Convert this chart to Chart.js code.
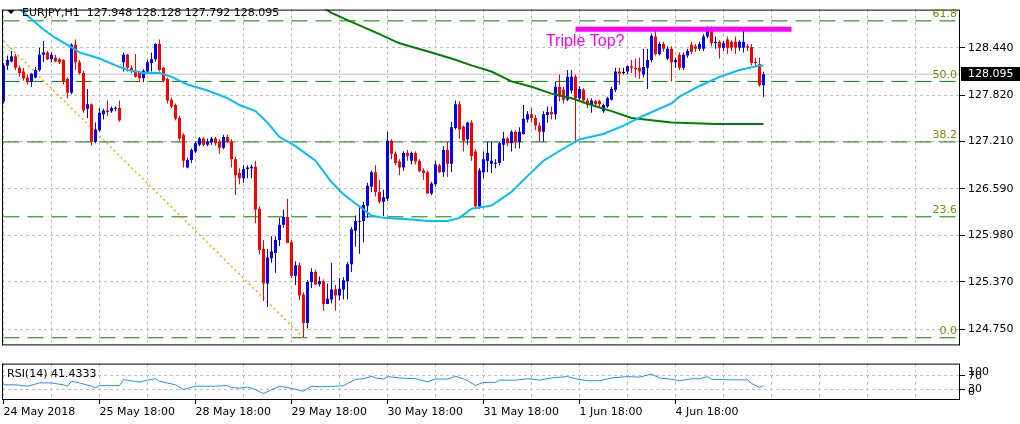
<!DOCTYPE html>
<html>
<head>
<meta charset="utf-8">
<script src="https://cdn.jsdelivr.net/npm/chart.js@4/dist/chart.umd.min.js"></script>
<style>
  body { margin: 0; background: #fff; }
  #wrap { position: relative; width: 1020px; height: 424px; }
  #wrap canvas { position: absolute; left: 0; }
  #mainChart { top: 0; }
  #rsiChart { top: 354px; }
</style>
</head>
<body>
<div id="wrap">
  <canvas id="mainChart" width="1020" height="355"></canvas>
  <canvas id="rsiChart" width="1020" height="70"></canvas>
</div>
<script>
// EURJPY H1 candles, one per hour, index 0 = 24 May 18:00
const open = [
  127.74,128.21,128.26,128.33,128.18,128.13,128.05,128.00,128.05,128.15,
  128.35,128.38,128.29,128.31,128.29,128.28,128.03,127.85,128.48,128.25,
  128.11,127.64,127.70,127.21,127.36,127.57,127.62,127.61,127.64,127.65,
  128.25,128.35,128.18,128.14,128.11,128.04,128.13,128.24,128.29,128.49,
  128.18,128.03,127.76,127.69,127.52,127.30,126.87,126.97,127.08,127.17,
  127.25,127.17,127.20,127.25,127.21,127.13,127.27,127.21,126.98,126.80,
  126.73,126.85,126.86,126.88,126.33,125.80,125.35,125.68,125.75,125.92,
  126.12,126.22,125.89,125.45,125.59,125.20,124.83,125.37,125.50,125.34,
  125.38,125.08,125.14,125.27,125.19,125.27,125.38,125.60,126.04,126.16,
  126.17,126.37,126.62,126.81,126.55,126.42,126.46,127.22,127.05,126.95,
  126.87,127.06,126.96,127.06,126.96,126.83,126.81,126.53,126.65,126.90,
  126.81,127.10,126.92,127.39,127.70,127.41,127.24,127.46,127.08,126.36,
  126.81,126.96,126.92,126.92,126.93,127.17,127.25,127.19,127.34,127.21,
  127.31,127.50,127.57,127.52,127.42,127.34,127.56,127.60,127.57,127.93,
  127.89,127.76,127.88,128.06,127.78,127.89,127.75,127.69,127.74,127.74,
  127.61,127.67,127.76,127.89,128.13,128.11,128.13,128.20,128.18,128.18,
  128.09,128.18,128.28,128.59,128.36,128.49,128.30,128.43,128.25,128.35,
  128.18,128.34,128.48,128.46,128.43,128.43,128.59,128.68,128.50,128.52,
  128.44,128.55,128.52,128.52,128.44,128.44,128.46,128.45,128.25,128.23,
  127.948
];
const high = [
  128.24,128.34,128.40,128.36,128.21,128.18,128.09,128.11,128.19,128.44,
  128.53,128.40,128.38,128.35,128.31,128.29,128.05,128.50,128.55,128.28,
  128.14,127.90,127.71,127.46,127.65,127.64,127.75,127.67,127.67,127.75,
  128.38,128.36,128.21,128.36,128.14,128.16,128.28,128.38,128.50,128.55,
  128.19,128.05,127.79,127.71,127.55,127.32,127.00,127.12,127.21,127.27,
  127.27,127.25,127.27,127.27,127.24,127.30,127.30,127.24,127.01,126.86,
  126.90,126.90,126.91,126.96,126.36,125.92,125.80,125.97,125.97,126.21,
  126.32,126.46,125.92,125.64,125.62,125.23,125.39,125.55,125.53,125.44,
  125.40,125.35,125.62,125.33,125.42,125.43,125.63,126.09,126.24,126.36,
  126.42,126.67,126.83,126.90,126.71,126.58,127.34,127.24,127.08,126.98,
  127.08,127.10,127.08,127.08,126.98,126.86,126.83,126.68,126.96,126.92,
  127.15,127.21,127.47,127.75,127.74,127.42,127.47,127.49,127.11,126.86,
  127.08,127.21,127.21,126.98,127.21,127.34,127.27,127.36,127.36,127.40,
  127.69,127.61,127.65,127.56,127.46,127.61,127.67,127.67,128.00,128.09,
  127.93,128.15,128.15,128.09,127.94,127.91,127.78,127.78,127.76,127.76,
  127.71,127.80,127.93,128.18,128.18,128.18,128.21,128.28,128.30,128.31,
  128.43,128.43,128.63,128.69,128.52,128.52,128.46,128.46,128.31,128.38,
  128.38,128.43,128.52,128.49,128.52,128.62,128.72,128.72,128.59,128.54,
  128.53,128.59,128.54,128.59,128.54,128.69,128.49,128.49,128.31,128.31,
  128.128
];
const low = [
  127.71,128.15,128.25,128.15,128.06,128.01,127.96,127.93,128.04,128.13,
  128.25,128.28,128.25,128.25,128.23,127.96,127.78,127.83,128.15,128.09,
  127.59,127.52,127.16,127.19,127.34,127.50,127.55,127.59,127.61,127.47,
  128.13,128.13,128.11,128.05,127.99,127.99,128.11,128.13,128.26,128.13,
  127.99,127.71,127.65,127.49,127.22,126.87,126.86,126.93,127.06,127.15,
  127.15,127.15,127.17,127.16,127.05,127.11,127.19,126.87,126.51,126.65,
  126.67,126.73,126.73,126.14,125.73,125.12,125.04,125.62,125.49,125.84,
  126.08,125.88,125.42,125.33,125.13,124.64,124.76,125.29,125.33,125.31,
  124.99,125.08,125.09,124.99,125.13,125.14,125.14,125.50,125.83,125.74,
  125.89,126.21,126.55,126.49,126.40,126.23,126.43,126.98,126.90,126.77,
  126.83,126.96,126.91,126.91,126.81,126.71,126.53,126.51,126.62,126.80,
  126.75,126.75,126.81,127.37,127.25,127.08,127.17,126.96,126.33,126.33,
  126.73,126.81,126.80,126.86,126.90,126.96,127.15,127.08,127.12,127.12,
  127.30,127.46,127.46,127.36,127.21,127.21,127.46,127.50,127.50,127.74,
  127.71,127.74,127.84,127.19,127.75,127.71,127.65,127.59,127.66,127.65,
  127.59,127.65,127.75,127.86,127.96,128.09,128.09,128.11,128.05,128.03,
  128.05,127.90,128.25,128.34,128.34,128.39,128.28,128.00,128.18,128.15,
  128.15,128.31,128.36,128.39,128.40,128.40,128.57,128.46,128.43,128.30,
  128.40,128.36,128.40,128.36,128.40,128.38,128.40,128.21,128.19,127.93,
  127.792
];
const close = [
  128.21,128.28,128.33,128.18,128.11,128.04,127.99,128.10,128.15,128.35,
  128.38,128.29,128.35,128.26,128.25,128.00,127.85,128.48,128.25,128.11,
  127.62,127.70,127.21,127.37,127.59,127.62,127.60,127.65,127.65,127.49,
  128.35,128.18,128.14,128.06,128.04,128.14,128.25,128.29,128.49,128.15,
  128.01,127.75,127.67,127.51,127.25,126.96,126.97,127.10,127.19,127.25,
  127.17,127.21,127.25,127.19,127.13,127.27,127.21,126.98,126.77,126.73,
  126.85,126.87,126.88,126.32,125.79,125.35,125.69,125.77,125.92,126.12,
  126.22,125.88,125.45,125.59,125.19,124.83,125.37,125.50,125.34,125.38,
  125.08,125.15,125.27,125.19,125.28,125.39,125.60,126.06,126.17,126.17,
  126.38,126.63,126.81,126.55,126.42,126.48,127.22,127.05,126.93,126.87,
  127.06,127.02,127.06,126.95,126.82,126.80,126.53,126.66,126.91,126.81,
  127.10,126.92,127.40,127.70,127.37,127.22,127.46,127.02,126.36,126.83,
  126.98,127.06,126.96,126.93,127.19,127.25,127.19,127.34,127.21,127.34,
  127.51,127.57,127.52,127.42,127.34,127.57,127.60,127.57,127.93,127.80,
  127.76,128.06,128.06,127.78,127.90,127.75,127.69,127.75,127.70,127.70,
  127.69,127.78,127.90,128.13,128.10,128.11,128.20,128.18,128.16,128.13,
  128.19,128.28,128.60,128.36,128.49,128.43,128.43,128.25,128.28,128.18,
  128.35,128.40,128.39,128.43,128.49,128.59,128.68,128.50,128.52,128.44,
  128.50,128.44,128.44,128.44,128.52,128.52,128.44,128.24,128.24,127.95,
  128.095
];

// moving averages (bar index -> price)
const sma50Idx = [4,10,13,16,19,24,28,31,35,39,42,46,51,56,59,63,66,69,73,78,82,85,89,92,95,102,106,111,114,117,122,127,132,135,140,144,150,155,160,167,169,174,179,184,189,190];
const sma50Val = [128.95,128.68,128.57,128.48,128.38,128.30,128.21,128.15,128.11,128.11,128.06,127.96,127.88,127.78,127.69,127.61,127.46,127.27,127.15,126.96,126.68,126.52,126.36,126.24,126.21,126.19,126.17,126.17,126.21,126.33,126.37,126.55,126.81,126.96,127.12,127.24,127.31,127.42,127.55,127.71,127.80,127.94,128.06,128.15,128.21,128.21];
const sma200Idx = [78,82,87,94,99,107,112,117,122,127,132,137,142,147,152,157,162,167,178,190];
const sma200Val = [129.03,128.90,128.78,128.62,128.50,128.38,128.30,128.21,128.13,128.00,127.93,127.84,127.78,127.69,127.61,127.52,127.49,127.46,127.44,127.44];

// RSI(14)
const rsiIdx = [0,3,6,9,12,15,16,17,19,22,23,24,29,30,33,34,36,38,39,43,45,48,53,56,57,59,61,63,65,67,69,72,75,77,79,83,85,88,90,92,93,95,96,99,103,106,108,111,113,115,116,118,120,123,124,128,131,134,137,141,143,146,149,152,156,159,162,164,167,169,172,174,176,177,182,186,187,189,190];
const rsiVal = [43.1,43.1,39.0,48.8,48.8,43.1,39.0,53.7,48.8,39.0,34.1,40.6,40.6,58.6,52.9,51.3,57.0,61.1,53.7,43.1,29.2,39.0,39.0,41.5,34.9,33.3,36.5,29.2,16.9,28.4,39.0,32.5,24.3,39.0,37.4,39.0,40.6,59.4,61.1,68.4,63.5,60.3,67.6,63.5,61.1,52.1,60.3,60.3,68.4,61.1,55.4,41.5,50.4,50.4,57.0,57.0,61.1,57.0,63.5,67.6,61.1,55.4,55.4,63.5,67.6,66.0,75.0,63.5,59.4,55.4,61.1,61.1,67.6,59.4,57.8,57.8,47.2,34.9,41.4];
const rsiLast = 41.4333;

// fibonacci retracement, trend line, triple top
const fibLevels = ['0.0', '23.6', '38.2', '50.0', '61.8'];
const fibPrices = [124.637, 126.224, 127.206, 128.000, 128.794];
const fibIdx = [0, 238];
const trendIdx = [0, 75];
const trendVal = [128.53, 124.64];
const topIdx = [143, 197];
const topVal = [128.684, 128.684];
const noteText = 'Triple Top?';
const noteIdx = 135.6;
const notePrice = 128.465;

const lastPrice = 128.095;
const priceTicks = [124.750, 125.370, 125.980, 126.590, 127.210, 127.820, 128.440];
const rsiTicks = [30, 70];
const xLabels = ['24 May 2018', '25 May 18:00', '28 May 18:00', '29 May 18:00', '30 May 18:00', '31 May 18:00', '1 Jun 18:00', '4 Jun 18:00'];
const title = 'EURJPY,H1  127.948 128.128 127.792 128.095';

const xMin = -0.375, xMax = 239.125;
const font = { family: 'DejaVu Sans', size: 11 };

function pts(idx, vals) {
    return idx.map((v, k) => ({ x: v, y: vals[k] }));
}

function gridTicks(scale) {
    let t = [];
    for (let v = 0; v <= xMax; v += 12) t.push({ value: v });
    scale.ticks = t;
}

let candleColor = close.map((c, i) => c > open[i] ? '#0000ff' : c < open[i] ? '#ff0000' : '#000000');
let wicks = low.map((l, i) => ({ x: i, y: [l, high[i]] }));
let bodies = open.map((o, i) => ({ x: i, y: [o, close[i]] }));

let fibSets = fibPrices.map(p => ({
    type: 'line', data: pts(fibIdx, [p, p]), borderColor: '#008000', borderWidth: 1,
    borderDash: [16, 8], pointRadius: 0, order: 10
}));

const mainDecor = {
    id: 'mainDecor',
    afterDraw(chart) {
        const { ctx, chartArea: a, scales: { x, y } } = chart;
        ctx.save();
        ctx.strokeStyle = '#000';
        ctx.lineWidth = 1;
        ctx.strokeRect(a.left + 0.5, a.top + 0.5, a.right - a.left - 1, a.bottom - a.top - 1);

        // fib level labels
        ctx.font = '11px "DejaVu Sans"';
        ctx.fillStyle = '#7a8c00';
        ctx.textAlign = 'right';
        ctx.textBaseline = 'bottom';
        fibLevels.forEach((lv, k) => ctx.fillText(lv, a.right - 3, y.getPixelForValue(fibPrices[k]) - 1));

        // title
        ctx.fillStyle = '#000';
        ctx.beginPath();
        ctx.moveTo(7, 10); ctx.lineTo(15, 10); ctx.lineTo(11, 14); ctx.closePath();
        ctx.fill();
        ctx.textAlign = 'left';
        ctx.textBaseline = 'middle';
        ctx.fillText(title, 22, 13);

        // note
        ctx.font = '16px "Liberation Sans"';
        ctx.fillStyle = '#ff00ff';
        ctx.textBaseline = 'alphabetic';
        ctx.fillText(noteText, x.getPixelForValue(noteIdx), y.getPixelForValue(notePrice));

        // current price box
        const py = Math.round(y.getPixelForValue(lastPrice));
        ctx.fillStyle = '#000';
        ctx.fillRect(a.right + 1, py - 7, chart.width - a.right - 1, 14);
        ctx.font = '11px "DejaVu Sans"';
        ctx.fillStyle = '#fff';
        ctx.textBaseline = 'middle';
        ctx.fillText(lastPrice.toFixed(3), a.right + 8, py);
        ctx.restore();
    }
};

new Chart(document.getElementById('mainChart').getContext('2d'), {
    type: 'bar',
    data: {
        datasets: [
            ...fibSets,
            { type: 'line', data: pts([xMin, xMax], [lastPrice, lastPrice]), borderColor: '#c0c0c0', borderWidth: 1, pointRadius: 0, order: 9 },
            { type: 'line', data: pts(trendIdx, trendVal), borderColor: '#ffa500', borderWidth: 1.5, borderDash: [2, 3], pointRadius: 0, order: 8 },
            { type: 'bar', data: wicks, backgroundColor: candleColor, barThickness: 1, grouped: false, inflateAmount: 0, order: 5 },
            { type: 'bar', data: bodies, backgroundColor: candleColor, barThickness: 3, minBarLength: 1, grouped: false, inflateAmount: 0, order: 4 },
            { type: 'line', data: pts(sma50Idx, sma50Val), borderColor: '#00bfff', borderWidth: 2, pointRadius: 0, order: 3 },
            { type: 'line', data: pts(sma200Idx, sma200Val), borderColor: '#008000', borderWidth: 2, pointRadius: 0, order: 3 },
            { type: 'line', data: pts(topIdx, topVal), borderColor: '#ff00ff', borderWidth: 5, pointRadius: 0, order: 2 }
        ]
    },
    options: {
        responsive: false,
        animation: false,
        layout: { padding: { left: 2, top: 2, right: 0, bottom: 2 } },
        plugins: { legend: { display: false }, tooltip: { enabled: false } },
        scales: {
            x: {
                type: 'linear', min: xMin, max: xMax, offset: false,
                afterBuildTicks: gridTicks,
                afterFit: s => { s.height = 0; },
                ticks: { display: false },
                grid: { color: '#c0c0c0', drawTicks: false, offset: false },
                border: { display: false, dash: [3, 3] }
            },
            y: {
                position: 'right', min: 124.537, max: 128.942,
                afterBuildTicks: s => { s.ticks = priceTicks.map(v => ({ value: v })); },
                afterFit: s => { s.width = 60; },
                ticks: { callback: v => v.toFixed(3), padding: 3, color: '#000', font: font },
                grid: { color: '#c0c0c0', tickColor: '#000', tickLength: 5 },
                border: { display: false, dash: [3, 3] }
            }
        }
    },
    plugins: [mainDecor]
});

const rsiDecor = {
    id: 'rsiDecor',
    afterDraw(chart) {
        const { ctx, chartArea: a } = chart;
        ctx.save();
        ctx.strokeStyle = '#000';
        ctx.lineWidth = 1;
        ctx.strokeRect(a.left + 0.5, a.top + 0.5, a.right - a.left - 1, a.bottom - a.top - 1);
        ctx.font = '11px "DejaVu Sans"';
        ctx.fillStyle = '#000';
        ctx.textAlign = 'left';
        ctx.textBaseline = 'middle';
        ctx.fillText('RSI(14) ' + rsiLast, 7, a.top + 11);
        ctx.fillText('100', a.right + 8, a.top + 9);
        ctx.fillText('0', a.right + 8, a.bottom - 8);
        ctx.restore();
    }
};

function isLabelled(v) {
    return v % 24 === 0 && v / 24 < xLabels.length;
}

new Chart(document.getElementById('rsiChart').getContext('2d'), {
    type: 'line',
    data: {
        datasets: [{ data: pts(rsiIdx, rsiVal), borderColor: '#1e90ff', borderWidth: 1, pointRadius: 0 }]
    },
    options: {
        responsive: false,
        animation: false,
        layout: { padding: { left: 2, top: 2, right: 0, bottom: 0 } },
        plugins: { legend: { display: false }, tooltip: { enabled: false } },
        scales: {
            x: {
                type: 'linear', min: xMin, max: xMax, offset: false,
                afterBuildTicks: gridTicks,
                afterFit: s => { s.height = 24; },
                ticks: {
                    autoSkip: false, maxRotation: 0, minRotation: 0, align: 'start', padding: 2,
                    color: '#000', font: font,
                    callback: v => isLabelled(v) ? xLabels[v / 24] : ''
                },
                grid: {
                    color: '#c0c0c0', tickLength: 4, offset: false,
                    tickColor: c => (c.tick && isLabelled(c.tick.value)) ? '#000' : 'rgba(0,0,0,0)'
                },
                border: { display: false, dash: [3, 3] }
            },
            y: {
                position: 'right', min: -1.9, max: 106.1,
                afterBuildTicks: s => { s.ticks = rsiTicks.map(v => ({ value: v })); },
                afterFit: s => { s.width = 60; },
                ticks: { padding: 3, color: '#000', font: font },
                grid: { color: '#c0c0c0', tickColor: '#000', tickLength: 5 },
                border: { display: false, dash: [3, 3] }
            }
        }
    },
    plugins: [rsiDecor]
});
</script>
</body>
</html>
